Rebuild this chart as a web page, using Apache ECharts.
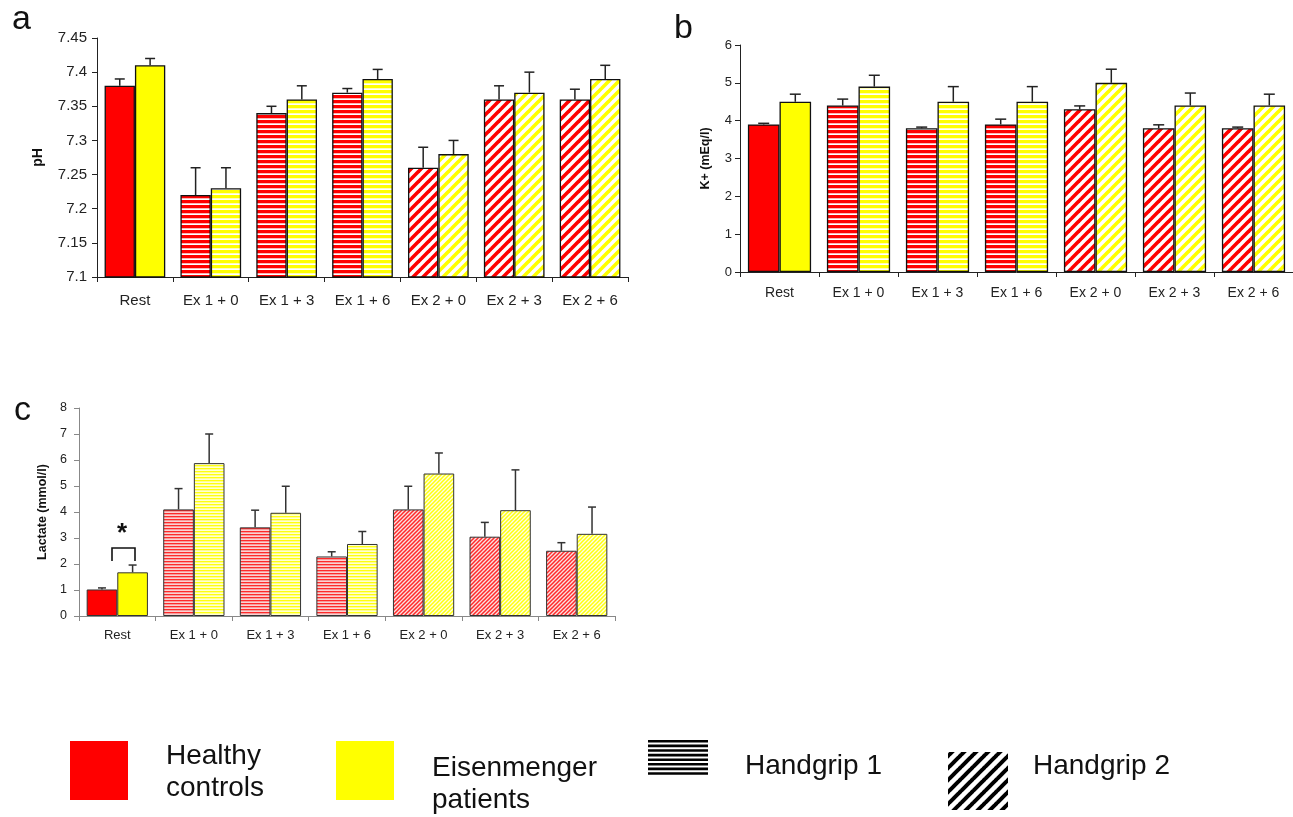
<!DOCTYPE html>
<html>
<head>
<meta charset="utf-8">
<script src="https://cdn.jsdelivr.net/npm/echarts@6/dist/echarts.min.js"></script>
<style>
html,body{margin:0;padding:0;background:#fff;}
#chart{width:1293px;height:817px;}
</style>
</head>
<body>
<div id="chart"></div>
<script>
// ---------- data ----------
var categories = ['Rest', 'Ex 1 + 0', 'Ex 1 + 3', 'Ex 1 + 6', 'Ex 2 + 0', 'Ex 2 + 3', 'Ex 2 + 6'];
var patternType = ['solid', 'h', 'h', 'h', 'd', 'd', 'd'];

var phHealthy    = [7.38, 7.22, 7.34, 7.37, 7.26, 7.36, 7.36];
var phHealthyErr = [0.01, 0.04, 0.01, 0.006, 0.03, 0.02, 0.015];
var phEisen      = [7.41, 7.23, 7.36, 7.39, 7.28, 7.37, 7.39];
var phEisenErr   = [0.01, 0.03, 0.02, 0.014, 0.02, 0.03, 0.02];

var kHealthy     = [3.9, 4.4, 3.8, 3.9, 4.3, 3.8, 3.8];
var kHealthyErr  = [0.03, 0.17, 0.03, 0.14, 0.09, 0.09, 0.03];
var kEisen       = [4.5, 4.9, 4.5, 4.5, 5.0, 4.4, 4.4];
var kEisenErr    = [0.2, 0.3, 0.4, 0.4, 0.36, 0.33, 0.3];

var lacHealthy    = [1.02, 4.1, 3.41, 2.29, 4.1, 3.05, 2.51];
var lacHealthyErr = [0.06, 0.8, 0.66, 0.18, 0.89, 0.55, 0.31];
var lacEisen      = [1.68, 5.88, 3.97, 2.77, 5.48, 4.07, 3.16];
var lacEisenErr   = [0.28, 1.12, 1.02, 0.48, 0.79, 1.55, 1.03];

var phTicks = {min: 7.1, max: 7.45, interval: 0.05};
var kTicks = {min: 0, max: 6, interval: 1};
var lacTicks = {min: 0, max: 8, interval: 1};

// ---------- patterns ----------
var RED = '#ff0000', YEL = '#ffff00';
function hStripe(rows) {
  var c = document.createElement('canvas');
  c.width = 4; c.height = rows.length;
  var g = c.getContext('2d');
  rows.forEach(function (col, i) { g.fillStyle = col; g.fillRect(0, i, 4, 1); });
  return {image: c, repeat: 'repeat'};
}
function dStripe(size, lw, fg, bg) {
  var c = document.createElement('canvas');
  c.width = size; c.height = size;
  var g = c.getContext('2d');
  g.fillStyle = bg; g.fillRect(0, 0, size, size);
  g.strokeStyle = fg; g.lineWidth = lw;
  [-size, 0, size].forEach(function (k) {
    g.beginPath(); g.moveTo(k - 1, size + 1); g.lineTo(k + size + 1, -1); g.stroke();
  });
  return {image: c, repeat: 'repeat'};
}
var pat = {
  big: {
    red: {solid: RED, h: hStripe([RED, RED, RED, '#ffb4b4', '#ffffff']), d: dStripe(10, 3.6, RED, '#ffffff')},
    yel: {solid: YEL, h: hStripe([YEL, YEL, YEL, '#ffffb4', '#ffffff']), d: dStripe(10, 3.6, YEL, '#ffffff')}
  },
  small: {
    red: {solid: RED, h: hStripe(['#ff2a2a', '#f59c9c', '#fbd2d2']), d: dStripe(4, 1.5, '#ff2a2a', '#fbe0e0')},
    yel: {solid: YEL, h: hStripe(['#ffff10', '#ffff90', '#ffffd4']), d: dStripe(4, 1.5, '#ffff10', '#ffffe0')}
  }
};

function barData(vals, set) {
  return vals.map(function (v, i) {
    return {value: v, itemStyle: {color: set[patternType[i]]}};
  });
}
function errData(vals, errs) {
  return vals.map(function (v, i) { return [i, v, v + errs[i]]; });
}
function errRender(sign, cap, color, lw) {
  return function (params, api) {
    var i = api.value(0), v = api.value(1), t = api.value(2);
    var bw = api.size([1, 0])[0];
    var p0 = api.coord([i, v]), p1 = api.coord([i, t]);
    var x = p0[0] + sign * bw * 0.2;
    return {
      type: 'group',
      children: [
        {type: 'line', shape: {x1: x, y1: p0[1], x2: x, y2: p1[1]}, style: {stroke: color, lineWidth: lw}},
        {type: 'line', shape: {x1: x - cap, y1: p1[1], x2: x + cap, y2: p1[1]}, style: {stroke: color, lineWidth: lw}}
      ]
    };
  };
}

var FONT = 'Liberation Sans, Arial, sans-serif';

function xAxis(gi, fs, margin, color) {
  return {
    type: 'category', gridIndex: gi, data: categories,
    axisLine: {lineStyle: {color: color, width: 1}},
    axisTick: {show: true, length: 5, lineStyle: {color: color}},
    axisLabel: {fontSize: fs, color: '#222', margin: margin, interval: 0, fontFamily: FONT}
  };
}
function yAxis(gi, ticks, fs, margin, name, nameGap, nameFs, color, fmt) {
  return {
    type: 'value', gridIndex: gi, min: ticks.min, max: ticks.max, interval: ticks.interval,
    name: name, nameLocation: 'middle', nameGap: nameGap,
    nameTextStyle: {fontWeight: 'bold', fontSize: nameFs, color: '#111', fontFamily: FONT},
    axisLine: {show: true, lineStyle: {color: color, width: 1}},
    axisTick: {show: true, length: 5, lineStyle: {color: color}},
    splitLine: {show: false},
    axisLabel: {fontSize: fs, color: '#222', margin: margin, fontFamily: FONT, formatter: fmt}
  };
}

function barSeries(gi, vals, set, bc, bw) {
  return {
    type: 'bar', xAxisIndex: gi, yAxisIndex: gi, data: barData(vals, set),
    barGap: '0%', barCategoryGap: '20%',
    itemStyle: {borderColor: bc, borderWidth: bw}
  };
}
function errSeries(gi, vals, errs, sign, cap, color, lw) {
  return {
    type: 'custom', xAxisIndex: gi, yAxisIndex: gi, z: 5,
    data: errData(vals, errs), renderItem: errRender(sign, cap, color, lw),
    encode: {x: 0, y: [1, 2]}, silent: true
  };
}

// legend hatch icons
var legendH = [];
for (var k = 0; k < 8; k++) {
  legendH.push({type: 'rect', shape: {x: 648, y: 740 + k * 4.6, width: 60, height: 2.6}, style: {fill: '#000'}});
}
var legendD = dStripe(12, 4, '#000', '#fff');

var chart = echarts.init(document.getElementById('chart'), null, {renderer: 'canvas'});
chart.setOption({
  animation: false,
  backgroundColor: '#fff',
  textStyle: {fontFamily: FONT},
  grid: [
    {left: 97, top: 38, width: 531, height: 239},
    {left: 740, top: 45, width: 562, height: 227},
    {left: 79, top: 408, width: 536, height: 208}
  ],
  xAxis: [
    xAxis(0, 15, 16, '#222'),
    xAxis(1, 14, 14, '#222'),
    xAxis(2, 13, 13, '#888')
  ],
  yAxis: [
    yAxis(0, phTicks, 15, 10, 'pH', 52, 14, '#222', function (v) { return String(parseFloat(v.toFixed(2))); }),
    yAxis(1, kTicks, 13, 8, 'K+ (mEq/l)', 28, 12.5, '#222'),
    yAxis(2, lacTicks, 12.5, 12, 'Lactate (mmol/l)', 30, 12.5, '#888')
  ],
  series: [
    barSeries(0, phHealthy, pat.big.red, '#111', 1.3),
    barSeries(0, phEisen, pat.big.yel, '#111', 1.3),
    errSeries(0, phHealthy, phHealthyErr, -1, 5, '#222', 1.5),
    errSeries(0, phEisen, phEisenErr, 1, 5, '#222', 1.5),

    barSeries(1, kHealthy, pat.big.red, '#111', 1.3),
    barSeries(1, kEisen, pat.big.yel, '#111', 1.3),
    errSeries(1, kHealthy, kHealthyErr, -1, 5.5, '#222', 1.5),
    errSeries(1, kEisen, kEisenErr, 1, 5.5, '#222', 1.5),

    barSeries(2, lacHealthy, pat.small.red, '#333', 1),
    barSeries(2, lacEisen, pat.small.yel, '#333', 1),
    errSeries(2, lacHealthy, lacHealthyErr, -1, 4, '#333', 1.5),
    errSeries(2, lacEisen, lacEisenErr, 1, 4, '#333', 1.5)
  ],
  graphic: [
    {type: 'text', left: 12, top: 3, style: {text: 'a', font: '34px ' + FONT, fill: '#111'}},
    {type: 'text', left: 674, top: 12, style: {text: 'b', font: '34px ' + FONT, fill: '#111'}},
    {type: 'text', left: 14, top: 394, style: {text: 'c', font: '34px ' + FONT, fill: '#111'}},

    // significance annotation (panel c)
    {type: 'polyline', shape: {points: [[112, 561], [112, 548], [135, 548], [135, 561]]}, style: {stroke: '#111', lineWidth: 1.6, fill: null}},
    {type: 'text', x: 122, y: 534, style: {text: '*', font: 'bold 26px ' + FONT, fill: '#111', align: 'center', verticalAlign: 'middle'}},

    // legend
    {type: 'rect', shape: {x: 70, y: 741, width: 58, height: 59}, style: {fill: RED}},
    {type: 'text', x: 166, y: 772, style: {text: 'Healthy\ncontrols', font: '28px ' + FONT, lineHeight: 32, fill: '#111', verticalAlign: 'middle'}},
    {type: 'rect', shape: {x: 336, y: 741, width: 58, height: 59}, style: {fill: YEL}},
    {type: 'text', x: 432, y: 784, style: {text: 'Eisenmenger\npatients', font: '28px ' + FONT, lineHeight: 32, fill: '#111', verticalAlign: 'middle'}},
    {type: 'group', children: legendH},
    {type: 'text', x: 745, y: 766, style: {text: 'Handgrip 1', font: '28px ' + FONT, fill: '#111', verticalAlign: 'middle'}},
    {type: 'rect', shape: {x: 948, y: 752, width: 60, height: 58}, style: {fill: legendD}},
    {type: 'text', x: 1033, y: 766, style: {text: 'Handgrip 2', font: '28px ' + FONT, fill: '#111', verticalAlign: 'middle'}}
  ]
});
</script>
</body>
</html>
